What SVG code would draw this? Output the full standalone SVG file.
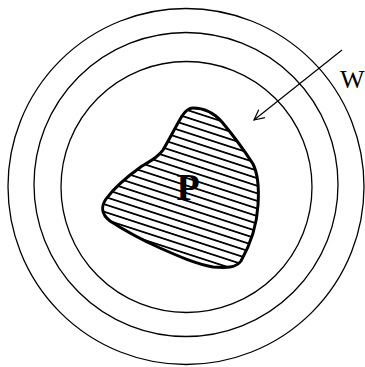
<svg xmlns="http://www.w3.org/2000/svg" width="365" height="367" viewBox="0 0 365 367">
<style>
.ring{fill:none;stroke:#000;stroke-width:1.3}
.lbl{font-family:"Liberation Serif",serif;fill:#000}
</style>
<defs>
<pattern id="hatch" patternUnits="userSpaceOnUse" width="40" height="7.2" patternTransform="rotate(18)">
<line x1="0" y1="3.6" x2="40" y2="3.6" stroke="#000" stroke-width="1.6"/>
</pattern>
<marker id="arr" viewBox="0 0 12 12" refX="11" refY="6" markerWidth="12" markerHeight="12" markerUnits="userSpaceOnUse" orient="auto">
<path d="M1,1 L11,6 L1,11" fill="none" stroke="#000" stroke-width="1.2"/>
</marker>
</defs>
<g id="rings">
<circle class="ring" cx="186" cy="186.5" r="178"/>
<circle class="ring" cx="186" cy="184.5" r="152"/>
<circle class="ring" cx="186.5" cy="187" r="125.5"/>
</g>
<g id="P">
<path d="M193,108 C206,108 215,114 222,122 C232,134 244,150 253,164 C259,176 259,190 258,205 C257,224 250,245 241,261 C236,268 226,268 213,267 C196,264 178,256 160,248 C142,240 124,230 110,221 C101,214 101,206 106,199 C114,188 128,176 142,166 C152,160 158,157 163,150 C169,140 176,126 182,116 C186,110 189,108 193,108 Z" fill="url(#hatch)" stroke="#000" stroke-width="3"/>
<text class="lbl" x="188" y="200" font-size="38" font-weight="bold" text-anchor="middle">P</text>
</g>
<g id="connectors">
<line x1="342" y1="50" x2="254" y2="120" stroke="#000" stroke-width="1.2" marker-end="url(#arr)"/>
</g>
<g id="W">
<text class="lbl" x="340" y="88" font-size="26">W</text>
</g>
</svg>
